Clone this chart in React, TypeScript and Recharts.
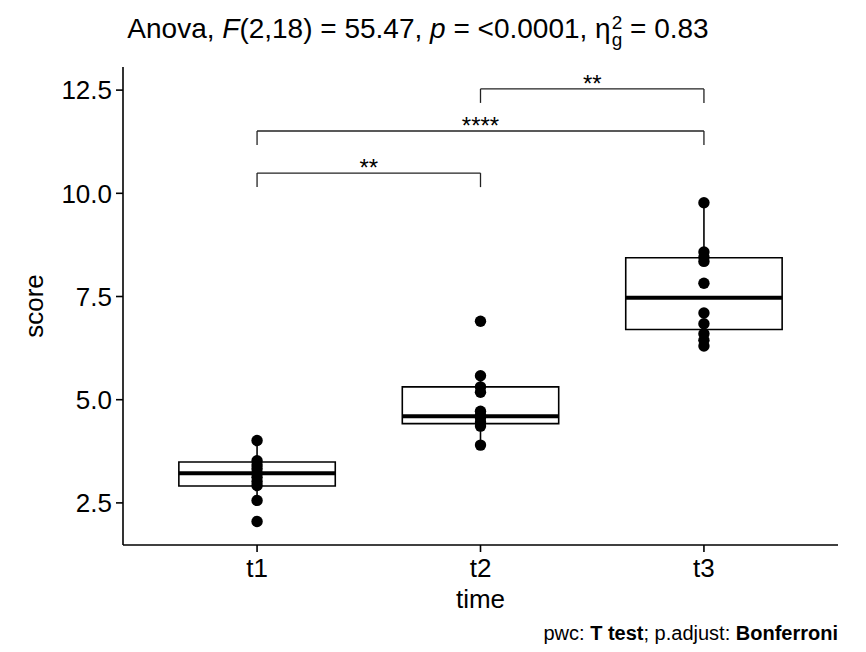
import {
  ComposedChart,
  Scatter,
  XAxis,
  YAxis,
  ReferenceArea,
  ReferenceLine,
  Label,
} from 'recharts';

const CATEGORIES = ['t1', 't2', 't3'];

// individual scores per time point (10 subjects)
const T1_SCORES = [4.01, 3.52, 3.42, 3.33, 3.22, 3.12, 3.02, 2.92, 2.56, 2.05];
const T2_SCORES = [6.9, 5.58, 5.31, 5.18, 4.72, 4.62, 4.56, 4.46, 4.36, 3.9];
const T3_SCORES = [9.77, 8.58, 8.45, 8.35, 7.82, 7.1, 6.84, 6.6, 6.44, 6.3];

// box stats: lower whisker, Q1, median, Q3, upper whisker
const BOX_LOW = [2.56, 3.9, 6.3];
const BOX_Q1 = [2.91, 4.42, 6.7];
const BOX_MEDIAN = [3.22, 4.6, 7.47];
const BOX_Q3 = [3.49, 5.31, 8.44];
const BOX_HIGH = [4.01, 5.58, 9.77];

// pairwise comparison brackets
const PAIR_FROM = [1, 1, 2];
const PAIR_TO = [2, 3, 3];
const PAIR_Y = [10.49, 11.51, 12.53];
const PAIR_LABELS = ['**', '****', '**'];

const Y_TICKS = [2.5, 5.0, 7.5, 10.0, 12.5];

const BOX_HALF = 0.35;
const TIP = 0.34;
const FONT = 'Liberation Sans, Arial, Helvetica, sans-serif';

const allScores = [T1_SCORES, T2_SCORES, T3_SCORES];
const pointData = allScores.flatMap((arr, i) => arr.map((v) => ({ x: i + 1, y: v })));

export default function App() {
  return (
    <div style={{ position: 'absolute', left: 0, top: 0, width: 866, height: 652, background: '#fff', fontFamily: FONT }}>
      <div
        style={{
          position: 'absolute',
          top: 9,
          left: 0,
          width: 836,
          textAlign: 'center',
          fontSize: 28,
          lineHeight: '40px',
          color: '#000',
          whiteSpace: 'nowrap',
        }}
      >
        Anova, <i>F</i>(2,18) = 55.47, <i>p</i> = &lt;0.0001, η
        <span style={{ display: 'inline-flex', flexDirection: 'column', verticalAlign: 'middle', fontSize: 19, lineHeight: '17px', marginLeft: 1 }}>
          <span>2</span>
          <span>g</span>
        </span>{' '}
        = 0.83
      </div>

      <ComposedChart width={866} height={652} data={pointData} margin={{ top: 67, right: 28, bottom: 0, left: 0 }}>
        <XAxis
          type="number"
          dataKey="x"
          domain={[0.4, 3.6]}
          ticks={[1, 2, 3]}
          tickFormatter={(v: number) => CATEGORIES[v - 1]}
          height={107}
          axisLine={{ stroke: '#000', strokeWidth: 1.6 }}
          tickLine={{ stroke: '#000', strokeWidth: 1.6 }}
          tickSize={7}
          tickMargin={7}
          tick={{ fill: '#000', fontSize: 26, fontFamily: FONT }}
          allowDataOverflow
        >
          <Label value="time" position="insideTop" offset={45} style={{ fill: '#000', fontSize: 26, fontFamily: FONT }} />
        </XAxis>
        <YAxis
          type="number"
          dataKey="y"
          domain={[1.48, 13.06]}
          ticks={Y_TICKS}
          tickFormatter={(v: number) => v.toFixed(1)}
          width={123}
          axisLine={{ stroke: '#000', strokeWidth: 1.6 }}
          tickLine={{ stroke: '#000', strokeWidth: 1.6 }}
          tickSize={7}
          tickMargin={4}
          tick={{ fill: '#000', fontSize: 26, fontFamily: FONT }}
          allowDataOverflow
        >
          <Label value="score" angle={-90} position="insideLeft" offset={34} style={{ fill: '#000', fontSize: 26, fontFamily: FONT, textAnchor: 'middle' }} />
        </YAxis>

        {CATEGORIES.map((c, i) => (
          <ReferenceArea
            key={`box-${c}`}
            x1={i + 1 - BOX_HALF}
            x2={i + 1 + BOX_HALF}
            y1={BOX_Q1[i]}
            y2={BOX_Q3[i]}
            fill="#fff"
            fillOpacity={1}
            stroke="#000"
            strokeWidth={1.6}
          />
        ))}
        {CATEGORIES.map((c, i) => (
          <ReferenceLine
            key={`wl-${c}`}
            segment={[{ x: i + 1, y: BOX_LOW[i] }, { x: i + 1, y: BOX_Q1[i] }]}
            stroke="#000"
            strokeWidth={1.6}
          />
        ))}
        {CATEGORIES.map((c, i) => (
          <ReferenceLine
            key={`wh-${c}`}
            segment={[{ x: i + 1, y: BOX_Q3[i] }, { x: i + 1, y: BOX_HIGH[i] }]}
            stroke="#000"
            strokeWidth={1.6}
          />
        ))}
        {CATEGORIES.map((c, i) => (
          <ReferenceLine
            key={`med-${c}`}
            segment={[{ x: i + 1 - BOX_HALF, y: BOX_MEDIAN[i] }, { x: i + 1 + BOX_HALF, y: BOX_MEDIAN[i] }]}
            stroke="#000"
            strokeWidth={4}
          />
        ))}

        {/* comparison brackets: horizontal bar plus two tips */}
        {PAIR_Y.map((y, i) => (
          <ReferenceLine
            key={`br-${i}`}
            segment={[{ x: PAIR_FROM[i], y }, { x: PAIR_TO[i], y }]}
            stroke="#222"
            strokeWidth={1.3}
            ifOverflow="visible"
          >
            <Label value={PAIR_LABELS[i]} position="top" offset={-3} style={{ fill: '#000', fontSize: 24, fontFamily: FONT }} />
          </ReferenceLine>
        ))}
        {PAIR_Y.map((y, i) => (
          <ReferenceLine
            key={`bra-${i}`}
            segment={[{ x: PAIR_FROM[i], y: y - TIP }, { x: PAIR_FROM[i], y }]}
            stroke="#222"
            strokeWidth={1.3}
            ifOverflow="visible"
          />
        ))}
        {PAIR_Y.map((y, i) => (
          <ReferenceLine
            key={`brb-${i}`}
            segment={[{ x: PAIR_TO[i], y: y - TIP }, { x: PAIR_TO[i], y }]}
            stroke="#222"
            strokeWidth={1.3}
            ifOverflow="visible"
          />
        ))}

        <Scatter
          data={pointData}
          dataKey="y"
          fill="#000"
          isAnimationActive={false}
          shape={(p: any) => <circle cx={p.cx} cy={p.cy} r={5.7} fill="#000" />}
        />
      </ComposedChart>

      <div
        style={{
          position: 'absolute',
          right: 28,
          top: 622,
          fontSize: 20,
          color: '#000',
          whiteSpace: 'nowrap',
        }}
      >
        pwc: <b>T test</b>; p.adjust: <b>Bonferroni</b>
      </div>
    </div>
  );
}
